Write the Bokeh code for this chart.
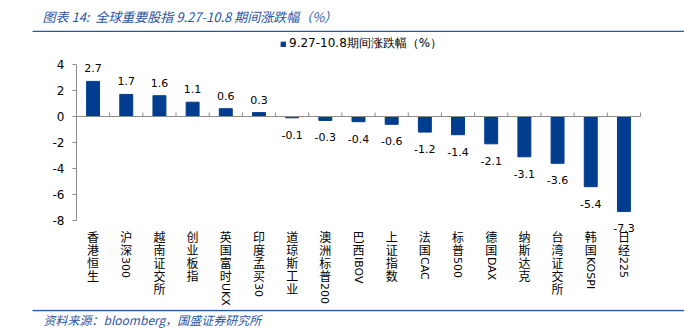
import math
import re
from bokeh.plotting import figure
from bokeh.layouts import column
from bokeh.models import ColumnDataSource, Range1d, Label, LabelSet, Legend, LegendItem
from bokeh.core.properties import value
from bokeh.embed import file_html
from bokeh.resources import INLINE

# ---------------- data ----------------
categories = ["香港恒生", "沪深300", "越南证交所", "创业板指", "英国富时UKX", "印度孟买30",
              "道琼斯工业", "澳洲标普200", "巴西IBOV", "上证指数", "法国CAC", "标普500",
              "德国DAX", "纳斯达克", "台湾证交所", "韩国KOSPI", "日经225"]
changes = [2.7, 1.7, 1.6, 1.1, 0.6, 0.3, -0.1, -0.3, -0.4, -0.6, -1.2, -1.4,
           -2.1, -3.1, -3.6, -5.4, -7.3]
y_ticks = [-8, -6, -4, -2, 0, 2, 4]
series_name = "9.27-10.8期间涨跌幅（%）"
title_text = "图表 14:\u00a0\u00a0全球重要股指 9.27-10.8 期间涨跌幅（%）"
source_text = "资料来源：bloomberg，国盛证券研究所"

# ---------------- styles / layout ----------------
BAR = "#003D8F"
AXIS = "#8C8C8C"
BLUE = "#2C55A3"
LAT = "DejaVu Sans"
CJK = "Noto Sans CJK SC"

W, H = 684, 333
HEAD_H, FOOT_H = 32, 24
MAIN_H = H - HEAD_H - FOOT_H
AX_L, AX_R = 76, 640                   # pixel columns of the plotting area
AX_T, AX_B = 64 - HEAD_H, 220 - HEAD_H  # rows of y = 4 and y = -8 inside the main strip
n = len(categories)
px_cat = (AX_R - AX_L) / n
px_unit = (AX_B - AX_T) / (y_ticks[-1] - y_ticks[0])


def bare(h, xr, yr):
    f = figure(width=W, height=h, title=None, x_range=xr, y_range=yr,
               output_backend="svg", toolbar_location=None,
               x_axis_location=None, y_axis_location=None,
               min_border=0, min_border_left=0, min_border_right=0,
               min_border_top=0, min_border_bottom=0)
    f.outline_line_color = None
    f.xgrid.visible = False
    f.ygrid.visible = False
    return f


# ---------- header: title + rule ----------
head = bare(HEAD_H, Range1d(0, W), Range1d(0, HEAD_H))
head.add_layout(Label(x=42, y=HEAD_H - 16, text=title_text, text_font=CJK,
                      text_font_size="13px", text_font_style="italic",
                      text_color=BLUE, text_baseline="middle"))
head.segment(x0=[32], y0=[1], x1=[W], y1=[1], line_color=BLUE, line_width=1.6)

# ---------- footer: rule + source ----------
foot = bare(FOOT_H, Range1d(0, W), Range1d(0, FOOT_H))
foot.segment(x0=[32], y0=[FOOT_H - 1], x1=[W], y1=[FOOT_H - 1],
             line_color=BLUE, line_width=1.6)
foot.add_layout(Label(x=43, y=FOOT_H - 10, text=source_text, text_font=CJK,
                      text_font_size="12px", text_font_style="italic",
                      text_color=BLUE, text_baseline="middle"))

# ---------- main chart ----------
x_range = Range1d(-AX_L / px_cat, n + (W - AX_R) / px_cat)
y_range = Range1d(y_ticks[0] - (MAIN_H - AX_B) / px_unit, y_ticks[-1] + AX_T / px_unit)
p = bare(MAIN_H, x_range, y_range)

xc = [i + 0.5 for i in range(n)]
src = ColumnDataSource(dict(x=xc, val=changes,
                            txt=[f"{v:.1f}" for v in changes],
                            off=[9 if v >= 0 else -21 for v in changes]))
bars = p.vbar(x="x", top="val", bottom=0, width=0.39, source=src,
              fill_color=BAR, line_color=BAR)

# y axis through the data scales
p.segment(x0=[0], y0=[y_ticks[0]], x1=[0], y1=[y_ticks[-1]], line_color=AXIS, line_width=1)
p.ray(x=[0] * len(y_ticks), y=y_ticks, length=4, length_units="screen",
      angle=math.pi, line_color=AXIS, line_width=1)
tick_src = ColumnDataSource(dict(x=[0] * len(y_ticks), y=y_ticks, t=[str(t) for t in y_ticks]))
p.add_layout(LabelSet(x="x", y="y", text="t", source=tick_src, x_offset=-12,
                      text_align="right", text_baseline="middle",
                      text_font=value(LAT), text_font_size="12px", text_color="black"))

# x axis line at zero with boundary ticks
p.segment(x0=[0], y0=[0], x1=[n], y1=[0], line_color=AXIS, line_width=1)
bounds = list(range(1, n + 1))
p.ray(x=bounds, y=[0] * len(bounds), length=4, length_units="screen",
      angle=math.pi / 2, line_color=AXIS, line_width=1)

# data labels
p.add_layout(LabelSet(x="x", y="val", text="txt", y_offset="off", source=src,
                      text_align="center", text_baseline="alphabetic",
                      text_font=value(LAT), text_font_size="11px", text_color="black"))

# category labels: CJK upright stacked; Latin runs rotated
CH = 13
TOP = 16
cx, ct, co = [], [], []
lx, lt, lo = [], [], []
for i, c in enumerate(categories):
    pos = TOP - CH / 2
    for seg in re.findall(r"[A-Za-z0-9]+|[^A-Za-z0-9]", c):
        if seg.isascii():
            lx.append(xc[i]); lt.append(seg); lo.append(-(pos + 1))
            pos += len(seg) * 7 + 2
        else:
            cx.append(xc[i]); ct.append(seg); co.append(-(pos + CH / 2))
            pos += CH
cjk_src = ColumnDataSource(dict(x=cx, y=[y_ticks[0]] * len(cx), t=ct, o=co))
lat_src = ColumnDataSource(dict(x=lx, y=[y_ticks[0]] * len(lx), t=lt, o=lo))
p.add_layout(LabelSet(x="x", y="y", text="t", y_offset="o", source=cjk_src,
                      text_align="center", text_baseline="middle",
                      text_font=value(CJK), text_font_size="12px", text_color="black"))
p.add_layout(LabelSet(x="x", y="y", text="t", y_offset="o", source=lat_src,
                      angle=-math.pi / 2, text_align="left", text_baseline="middle",
                      text_font=value(LAT), text_font_size="11px", text_color="black"))

# legend
legend = Legend(items=[LegendItem(label=series_name, renderers=[bars])],
                location=(280, MAIN_H - (52 - HEAD_H)), orientation="horizontal",
                glyph_width=6, glyph_height=6, label_height=12, label_standoff=3,
                padding=0, margin=0, spacing=0,
                border_line_color=None, background_fill_alpha=0,
                label_text_font=LAT, label_text_font_size="12px",
                label_text_color="black")
p.add_layout(legend)

layout = column(head, p, foot, spacing=0)
open("out.html", "w").write(file_html(layout, INLINE))
